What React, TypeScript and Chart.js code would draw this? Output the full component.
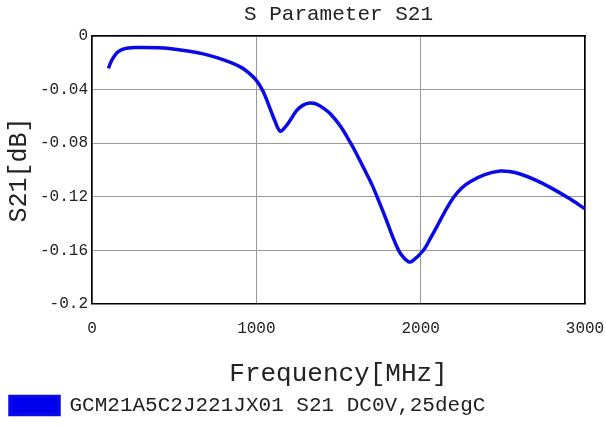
import React, { useEffect, useRef } from "react";
import { Chart, registerables } from "chart.js";

Chart.register(...registerables);

const freqMHz = [100, 120, 160, 220, 300, 400, 470, 550, 670, 760, 850, 910, 950, 1000, 1040, 1080, 1115, 1145, 1175, 1205, 1246, 1285, 1327, 1370, 1410, 1450, 1510, 1570, 1610, 1651, 1700, 1743, 1790, 1840, 1880, 1925, 1950, 2017, 2060, 2098, 2150, 2200, 2250, 2301, 2390, 2483, 2540, 2605, 2700, 2788, 2900, 3000];
const s21dB = [-0.024, -0.018, -0.0115, -0.0088, -0.0085, -0.0087, -0.0092, -0.0105, -0.013, -0.016, -0.020, -0.0235, -0.027, -0.033, -0.041, -0.053, -0.064, -0.071, -0.068, -0.063, -0.0555, -0.0515, -0.050, -0.051, -0.054, -0.058, -0.067, -0.079, -0.088, -0.098, -0.110, -0.1225, -0.137, -0.153, -0.163, -0.1685, -0.168, -0.160, -0.151, -0.1425, -0.1305, -0.1205, -0.1135, -0.1088, -0.1035, -0.1008, -0.1012, -0.103, -0.1075, -0.113, -0.121, -0.129];

const chartTitle = "S Parameter S21";
const xTitle = "Frequency[MHz]";
const yTitle = "S21[dB]";
const seriesLabel = "GCM21A5C2J221JX01 S21 DC0V,25degC";

const MONO = "'Liberation Mono', 'Courier New', monospace";

export default function App() {
  const ref = useRef<HTMLCanvasElement | null>(null);
  useEffect(() => {
    if (!ref.current) return;
    const chart = new Chart(ref.current, {
      type: "line",
      data: {
        datasets: [
          {
            label: seriesLabel,
            data: freqMHz.map((f, i) => ({ x: f, y: s21dB[i] })),
            borderColor: "#0a0ae6",
            backgroundColor: "#0000ee",
            borderWidth: 3.5,
            pointRadius: 0,
            tension: 0.35,
          },
        ],
      },
      options: {
        animation: false,
        responsive: false,
        layout: { padding: { left: 2, right: 21, top: 0, bottom: 0 } },
        plugins: {
          title: {
            display: true,
            fullSize: false,
            text: chartTitle,
            color: "#222",
            font: { family: MONO, size: 21, weight: "normal" },
            padding: { top: 2, bottom: 9 },
          },
          legend: {
            display: true,
            position: "bottom",
            align: "start",
            labels: {
              boxWidth: 49,
              boxHeight: 18,
              color: "#222",
              font: { family: MONO, size: 21 },
              padding: 8,
            },
          },
          tooltip: { enabled: false },
        },
        scales: {
          x: {
            type: "linear",
            min: 0,
            max: 3000,
            afterFit: (s: any) => {
              s.paddingRight = 0;
            },
            ticks: {
              stepSize: 1000,
              color: "#222",
              font: { family: MONO, size: 16 },
              padding: 15,
              callback: (v: any) => String(v),
            },
            grid: { color: "#999", lineWidth: 1, drawTicks: false },
            border: { color: "#000", width: 1.5 },
            title: {
              display: true,
              text: xTitle,
              color: "#222",
              font: { family: MONO, size: 26, lineHeight: 1 },
              padding: { top: 8, bottom: 0 },
            },
          },
          y: {
            type: "linear",
            min: -0.2,
            max: 0,
            ticks: {
              stepSize: 0.04,
              color: "#222",
              font: { family: MONO, size: 16 },
              padding: 4,
              callback: (v: any) => String(Number(Number(v).toFixed(2))),
            },
            grid: { color: "#999", lineWidth: 1, drawTicks: false },
            border: { color: "#000", width: 1.5 },
            title: {
              display: true,
              text: yTitle,
              color: "#222",
              font: { family: MONO, size: 25 },
              padding: { top: 2, bottom: 2 },
            },
          },
          x2: {
            type: "linear",
            position: "top",
            display: true,
            min: 0,
            max: 3000,
            afterFit: (s: any) => {
              s.paddingRight = 0;
              s.paddingLeft = 0;
            },
            ticks: { display: false },
            grid: { display: false, drawTicks: false },
            border: { color: "#000", width: 1.5 },
          },
          y2: {
            type: "linear",
            position: "right",
            display: true,
            min: -0.2,
            max: 0,
            ticks: { display: false },
            grid: { display: false, drawTicks: false },
            border: { color: "#000", width: 1.5 },
          },
        },
      },
    });
    return () => chart.destroy();
  }, []);
  return (
    <div style={{ position: "fixed", left: 0, top: 0, width: 606, height: 426, background: "#fff" }}>
      <canvas ref={ref} width={606} height={426} style={{ width: 606, height: 426 }} />
    </div>
  );
}
